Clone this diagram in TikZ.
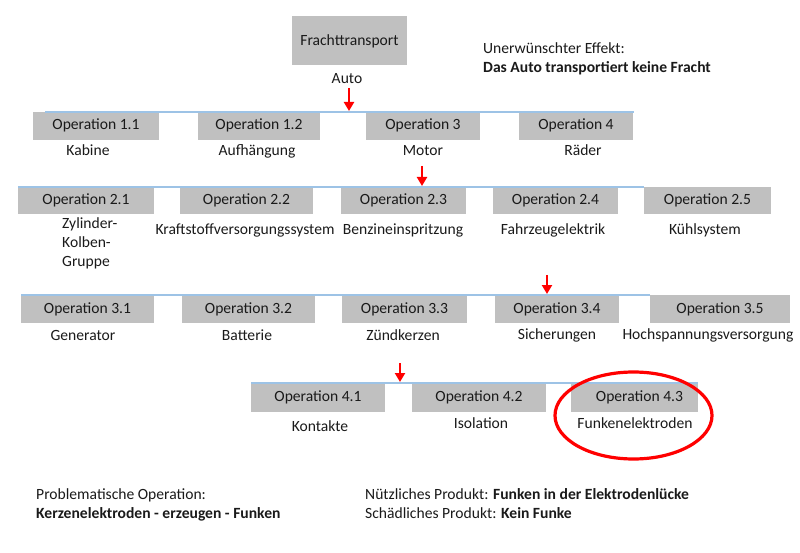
\documentclass[tikz,border=0pt]{standalone}
\usepackage{fontspec}
\setmainfont{Carlito}
\usetikzlibrary{arrows.meta,shapes.geometric}
\definecolor{boxgray}{HTML}{C0C0C0}
\definecolor{busblue}{HTML}{9DC3E6}
\definecolor{txt}{HTML}{1A1A1A}
\begin{document}
\begin{tikzpicture}[x=1pt,y=-1pt,
  every node/.style={font=\fontsize{15.6}{19}\selectfont, text=txt},
  opbox/.style={fill=boxgray, draw=none, inner sep=0pt, text height=10.5pt, text depth=2.5pt},
  lbl/.style={inner sep=0pt, text height=10pt, text depth=3pt, yshift=-1.5pt},
  bus/.style={draw=busblue, line width=1.3pt},
  redarrow/.style={draw=red, line width=2.8pt, -{Triangle[width=10pt,length=9pt]}},
  mark43/.style={draw=red, line width=3.2pt}]
\useasboundingbox (0,0) rectangle (800,553);
% top
\node[opbox, minimum width=115pt, minimum height=49pt, text height=12pt, text depth=1pt] (F) at (349.5,40.5) {Frachttransport};
\node[lbl] (auto) at (347,79) {Auto};
\node[lbl, anchor=west] (ue1) at (483,49) {Unerwünschter Effekt:};
\node[lbl, anchor=west] (ue2) at (483,68) {\bfseries Das Auto transportiert keine Fracht};
% row 1
\foreach \n/\c/\w/\t in {b11/96/126/Operation 1.1, b12/259/122/Operation 1.2, b13/423/114/Operation 3, b14/576/114/Operation 4}
  \node[opbox, minimum width=\w pt, minimum height=28pt] (\n) at (\c,126) {\t};
\coordinate (r1s) at (45,112);
\coordinate (r1e) at (634,112);
\draw[bus] (r1s) -- (r1e);
\node[lbl] (kab) at (88,151) {Kabine};
\node[lbl] (auf) at (257,151) {Aufhängung};
\node[lbl] (mot) at (423,151) {Motor};
\node[lbl] (rad) at (583,151) {Räder};
% row 2
\foreach \n/\c/\w/\t in {b21/86/136/Operation 2.1, b22/246.5/133/Operation 2.2, b23/403.5/125/Operation 2.3, b24/555.5/125/Operation 2.4, b25/707.5/127/Operation 2.5}
  \node[opbox, minimum width=\w pt, minimum height=27pt] (\n) at (\c,200.5) {\t};
\coordinate (r2s) at (18,187);
\coordinate (r2e) at (644,187);
\draw[bus] (r2s) -- (r2e);
\node[inner sep=0pt, anchor=north west, align=left] (zyl) at (62,217) {Zylinder-\\Kolben-\\Gruppe};
\node[lbl] (kra) at (245,230) {Kraftstoffversorgungssystem};
\node[lbl] (ben) at (403,230) {Benzineinspritzung};
\node[lbl] (fah) at (553,230) {Fahrzeugelektrik};
\node[lbl] (kue) at (705,230) {Kühlsystem};
% row 3
\foreach \n/\c/\w/\t in {b31/87.5/133/Operation 3.1, b32/248.5/133/Operation 3.2, b33/404.5/125/Operation 3.3, b34/557/124/Operation 3.4, b35/720/140/Operation 3.5}
  \node[opbox, minimum width=\w pt, minimum height=28pt] (\n) at (\c,309) {\t};
\coordinate (r3s) at (21,295);
\coordinate (r3e) at (650,295);
\draw[bus] (r3s) -- (r3e);
\node[lbl] (gen) at (83,335) {Generator};
\node[lbl] (bat) at (247,335) {Batterie};
\node[lbl] (zue) at (403,335) {Zündkerzen};
\node[lbl] (sic) at (557,334) {Sicherungen};
\node[lbl] (hoc) at (708,334) {Hochspannungsversorgung};
% row 4
\foreach \n/\c/\w/\t in {b41/318/134/Operation 4.1, b42/479/134/Operation 4.2, b43/634.5/127/\hspace*{10pt}Operation 4.3}
  \node[opbox, minimum width=\w pt, minimum height=29pt] (\n) at (\c,397.5) {\t};
\coordinate (r4s) at (251,383);
\coordinate (r4e) at (698,383);
\draw[bus] (r4s) -- (r4e);
\node[lbl] (kon) at (320,426) {Kontakte};
\node[lbl] (iso) at (481,423) {Isolation};
\node[lbl] (fun) at (635,423) {Funkenelektroden};
\node[mark43, ellipse, minimum width=157pt, minimum height=87pt, inner sep=0pt] (circ) at (633.5,415.5) {};
% arrows
\coordinate (a1s) at (349,88);  \coordinate (a1e) at (349,111);
\coordinate (a2s) at (422,166); \coordinate (a2e) at (422,186);
\coordinate (a3s) at (547,275); \coordinate (a3e) at (547,294);
\coordinate (a4s) at (400,363); \coordinate (a4e) at (400,382);
\draw[redarrow] (a1s) -- (a1e);
\draw[redarrow] (a2s) -- (a2e);
\draw[redarrow] (a3s) -- (a3e);
\draw[redarrow] (a4s) -- (a4e);
% bottom texts
\node[lbl, anchor=west] (po1) at (36,494) {Problematische Operation:};
\node[lbl, anchor=west] (po2) at (36,513) {\bfseries Kerzenelektroden - erzeugen - Funken};
\node[lbl, anchor=west] (np) at (365,494) {Nützliches Produkt: {\bfseries Funken in der Elektrodenlücke}};
\node[lbl, anchor=west] (sp) at (365,513) {Schädliches Produkt: {\bfseries Kein Funke}};
\end{tikzpicture}
\end{document}
